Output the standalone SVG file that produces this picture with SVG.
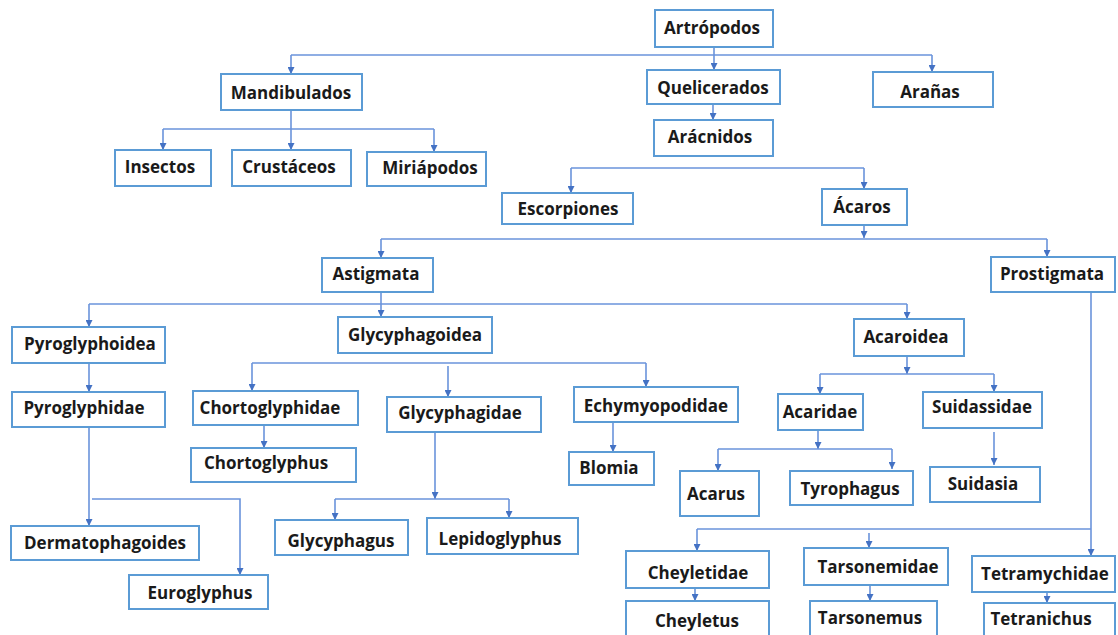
<svg xmlns="http://www.w3.org/2000/svg" width="1118" height="635" viewBox="0 0 1118 635">
<style>
.b{fill:#fff;stroke:#5b9bd5;stroke-width:2}
.t{font-family:"Open Sans","Liberation Sans",sans-serif;font-weight:700;font-size:17px;fill:#1a1a1a;text-anchor:middle}
.c{fill:none;stroke:#6a93db;stroke-width:1.6}
.a{marker-end:url(#ah)}
</style>
<defs>
<marker id="ah" viewBox="0 0 8 8" refX="8" refY="4" markerWidth="7" markerHeight="7" markerUnits="userSpaceOnUse" orient="auto"><path d="M0,0 L8,4 L0,8z" fill="#4472c4"/></marker>
</defs>
<rect width="1118" height="635" fill="#fff"/>
<g id="connectors">
<path class="c a" d="M714,47 V70"/>
<path class="c" d="M291,55 H932"/>
<path class="c a" d="M291,55 V74"/>
<path class="c a" d="M932,55 V72"/>
<path class="c a" d="M713,104 V120"/>
<path class="c" d="M571,168 H864"/>
<path class="c a" d="M571,168 V193"/>
<path class="c a" d="M864,168 V189"/>
<path class="c a" d="M291,110 V150"/>
<path class="c" d="M163,129 H434"/>
<path class="c a" d="M163,129 V150"/>
<path class="c a" d="M434,129 V152"/>
<path class="c a" d="M864,225 V238"/>
<path class="c" d="M381,239 H1047"/>
<path class="c a" d="M381,239 V258"/>
<path class="c a" d="M1047,239 V257"/>
<path class="c a" d="M381,292 V317"/>
<path class="c" d="M89,304 H907"/>
<path class="c a" d="M89,304 V327"/>
<path class="c a" d="M907,304 V319"/>
<path class="c a" d="M89,363 V392"/>
<path class="c" d="M252,363 H646"/>
<path class="c a" d="M252,363 V391"/>
<path class="c a" d="M646,363 V387"/>
<path class="c a" d="M448,366 V397"/>
<path class="c a" d="M264,425 V448"/>
<path class="c a" d="M89,427 V526"/>
<path class="c a" d="M92,499 H240 V575"/>
<path class="c a" d="M435,432 V499"/>
<path class="c" d="M335,499 H509"/>
<path class="c a" d="M335,499 V520"/>
<path class="c a" d="M509,499 V518"/>
<path class="c a" d="M613,422 V452"/>
<path class="c a" d="M907,356 V374"/>
<path class="c" d="M820,374 H994"/>
<path class="c a" d="M820,374 V394"/>
<path class="c a" d="M994,374 V392"/>
<path class="c a" d="M818,430 V449"/>
<path class="c" d="M718,449 H892"/>
<path class="c a" d="M718,449 V471"/>
<path class="c a" d="M892,449 V469"/>
<path class="c a" d="M994,432 V465"/>
<path class="c a" d="M1091,292 V556"/>
<path class="c" d="M697,529 H1091"/>
<path class="c a" d="M697,529 V551"/>
<path class="c a" d="M869,533 V548"/>
<path class="c a" d="M695,588 V601"/>
<path class="c a" d="M870,585 V601"/>
<path class="c a" d="M1047,592 V603"/>
</g>
<g id="n-artropodos"><rect class="b" x="655" y="10" width="118" height="37"/><text class="t" x="712" y="34">Artrópodos</text></g>
<g id="n-mandibulados"><rect class="b" x="221" y="74" width="141" height="36"/><text class="t" x="291" y="99">Mandibulados</text></g>
<g id="n-quelicerados"><rect class="b" x="647" y="70" width="133" height="34"/><text class="t" x="713" y="94">Quelicerados</text></g>
<g id="n-aranas"><rect class="b" x="873" y="72" width="120" height="35"/><text class="t" x="930" y="98">Arañas</text></g>
<g id="n-aracnidos"><rect class="b" x="654" y="120" width="119" height="36"/><text class="t" x="710" y="143">Arácnidos</text></g>
<g id="n-insectos"><rect class="b" x="115" y="150" width="96" height="36"/><text class="t" x="160" y="173">Insectos</text></g>
<g id="n-crustaceos"><rect class="b" x="232" y="150" width="119" height="36"/><text class="t" x="289" y="173">Crustáceos</text></g>
<g id="n-miriapodos"><rect class="b" x="367" y="152" width="119" height="34"/><text class="t" x="430" y="174">Miriápodos</text></g>
<g id="n-escorpiones"><rect class="b" x="502" y="193" width="131" height="31"/><text class="t" x="568" y="215">Escorpiones</text></g>
<g id="n-acaros"><rect class="b" x="822" y="189" width="85" height="36"/><text class="t" x="862" y="213">Ácaros</text></g>
<g id="n-astigmata"><rect class="b" x="322" y="258" width="111" height="34"/><text class="t" x="376" y="280">Astigmata</text></g>
<g id="n-prostigmata"><rect class="b" x="991" y="257" width="124" height="35"/><text class="t" x="1052" y="280">Prostigmata</text></g>
<g id="n-pyroglyphoidea"><rect class="b" x="12" y="327" width="153" height="36"/><text class="t" x="90" y="350">Pyroglyphoidea</text></g>
<g id="n-glycyphagoidea"><rect class="b" x="338" y="317" width="154" height="36"/><text class="t" x="415" y="341">Glycyphagoidea</text></g>
<g id="n-acaroidea"><rect class="b" x="854" y="319" width="110" height="37"/><text class="t" x="906" y="343">Acaroidea</text></g>
<g id="n-pyroglyphidae"><rect class="b" x="12" y="392" width="153" height="35"/><text class="t" x="84" y="414">Pyroglyphidae</text></g>
<g id="n-chortoglyphidae"><rect class="b" x="193" y="391" width="165" height="34"/><text class="t" x="270" y="414">Chortoglyphidae</text></g>
<g id="n-glycyphagidae"><rect class="b" x="387" y="397" width="154" height="35"/><text class="t" x="460" y="419">Glycyphagidae</text></g>
<g id="n-echymyopodidae"><rect class="b" x="574" y="387" width="164" height="35"/><text class="t" x="656" y="412">Echymyopodidae</text></g>
<g id="n-acaridae"><rect class="b" x="778" y="394" width="85" height="36"/><text class="t" x="820" y="418">Acaridae</text></g>
<g id="n-suidassidae"><rect class="b" x="923" y="392" width="119" height="36"/><text class="t" x="982" y="413">Suidassidae</text></g>
<g id="n-chortoglyphus"><rect class="b" x="191" y="448" width="165" height="34"/><text class="t" x="266" y="469">Chortoglyphus</text></g>
<g id="n-blomia"><rect class="b" x="569" y="452" width="85" height="33"/><text class="t" x="609" y="474">Blomia</text></g>
<g id="n-acarus"><rect class="b" x="680" y="471" width="79" height="45"/><text class="t" x="716" y="500">Acarus</text></g>
<g id="n-tyrophagus"><rect class="b" x="790" y="471" width="123" height="34"/><text class="t" x="850" y="495">Tyrophagus</text></g>
<g id="n-suidasia"><rect class="b" x="930" y="467" width="110" height="35"/><text class="t" x="983" y="490">Suidasia</text></g>
<g id="n-dermatophagoides"><rect class="b" x="11" y="526" width="188" height="34"/><text class="t" x="105" y="549">Dermatophagoides</text></g>
<g id="n-glycyphagus"><rect class="b" x="275" y="520" width="133" height="35"/><text class="t" x="341" y="547">Glycyphagus</text></g>
<g id="n-lepidoglyphus"><rect class="b" x="427" y="518" width="151" height="36"/><text class="t" x="500" y="545">Lepidoglyphus</text></g>
<g id="n-euroglyphus"><rect class="b" x="129" y="575" width="139" height="34"/><text class="t" x="200" y="599">Euroglyphus</text></g>
<g id="n-cheyletidae"><rect class="b" x="626" y="551" width="143" height="37"/><text class="t" x="698" y="579">Cheyletidae</text></g>
<g id="n-tarsonemidae"><rect class="b" x="804" y="548" width="144" height="37"/><text class="t" x="878" y="573">Tarsonemidae</text></g>
<g id="n-tetramychidae"><rect class="b" x="972" y="556" width="143" height="36"/><text class="t" x="1045" y="580">Tetramychidae</text></g>
<g id="n-cheyletus"><rect class="b" x="626" y="601" width="143" height="40"/><text class="t" x="697" y="627">Cheyletus</text></g>
<g id="n-tarsonemus"><rect class="b" x="810" y="601" width="127" height="40"/><text class="t" x="870" y="624">Tarsonemus</text></g>
<g id="n-tetranichus"><rect class="b" x="984" y="603" width="131" height="40"/><text class="t" x="1041" y="625">Tetranichus</text></g>
</svg>
